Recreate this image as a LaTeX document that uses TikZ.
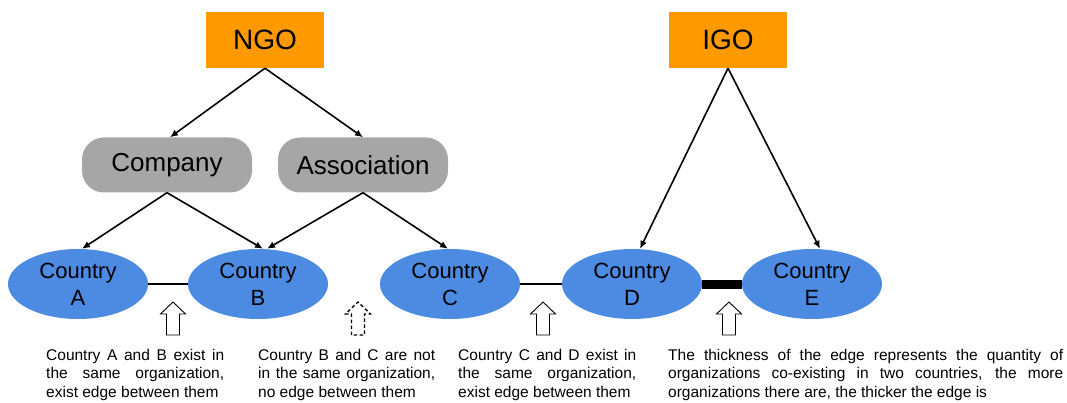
\documentclass[tikz,border=0pt]{standalone}
\usepackage{fontspec}
\setmainfont{Liberation Sans}
\usetikzlibrary{shapes.geometric,arrows.meta}
\definecolor{orgorange}{RGB}{255,153,0}
\definecolor{orggray}{RGB}{166,166,166}
\definecolor{ctryblue}{RGB}{77,138,226}
% hollow up arrow, centred on a named coordinate
\newcommand{\hollowup}[2][]{\draw[line width=0.9pt,fill=white,#1,shift={(#2)}] (-6.5,16.5) -- (-6.5,-4.5) -- (-12.5,-4.5) -- (0,-16.5) -- (12.5,-4.5) -- (6.5,-4.5) -- (6.5,16.5) -- cycle;}
\tikzset{
  orgbox/.style={fill=orgorange, minimum width=118pt, minimum height=56pt, inner sep=0pt, font=\fontsize{28}{32}\selectfont},
  typebox/.style={fill=orggray, rounded corners=22pt, minimum width=170pt, minimum height=55pt, inner sep=0pt, font=\fontsize{26}{30}\selectfont},
  country/.style={ellipse, fill=ctryblue, minimum width=140pt, minimum height=70pt, inner sep=0pt, align=center, font=\fontsize{22}{27}\selectfont},
  note/.style={anchor=north west, inner sep=0pt, align=justify, font=\fontsize{15.5}{18.5}\selectfont},
  link/.style={line width=1.6pt, -{Latex[length=8pt,width=7pt]}},
  noedge/.style={line width=1.3pt, dash pattern=on 3.5pt off 2.5pt}
}
\begin{document}
\begin{tikzpicture}[x=1pt,y=-1pt]
  \useasboundingbox (0,0) rectangle (1067,403);
  \node (ngo) at (265,40) [orgbox] {NGO};
  \node (igo) at (728,40) [orgbox] {IGO};
  \node (comp) at (167,165) [typebox] {Company};
  \node (assoc) at (363,165) [typebox] {Association};
  \node (A) at (78,284) [country] {Country\\A};
  \node (B) at (258,284) [country] {Country\\B};
  \node (C) at (450,284) [country] {Country\\C};
  \node (D) at (632,284) [country] {Country\\D};
  \node (E) at (812,284) [country] {Country\\E};
  \draw[link] (ngo.south) to ([xshift=3pt]comp.north);
  \draw[link] (ngo.south) to (assoc.north);
  \draw[link] (comp.south) to ([xshift=4pt]A.north);
  \draw[link] (comp.south) to ([xshift=5pt]B.north);
  \draw[link] (assoc.south) to ([xshift=9pt]B.north);
  \draw[link] (assoc.south) to ([xshift=-2pt]C.north);
  \draw[link] (igo.south) to ([xshift=8pt]D.north);
  \draw[link] (igo.south) to ([xshift=8pt]E.north);
  \draw[line width=1.4pt] (A) -- (B) (C) -- (D);
  \draw[line width=9pt] (D) -- (E);
  \coordinate (ab) at (173,318.5);
  \coordinate (bc) at (358,318.5);
  \coordinate (cd) at (543,318.5);
  \coordinate (de) at (729,318.5);
  \hollowup{ab}
  \hollowup[noedge]{bc}
  \hollowup{cd}
  \hollowup{de}
  \node (abtext) at (46,349) [note, text width=178pt] {Country A and B exist in\linebreak the same organization,\linebreak exist edge between them};
  \node (bctext) at (258,349) [note, text width=177pt] {Country B and C are not\linebreak in the same organization,\linebreak no edge between them};
  \node (cdtext) at (458,349) [note, text width=178pt] {Country C and D exist in\linebreak the same organization,\linebreak exist edge between them};
  \node (detext) at (668,349) [note, text width=395pt] {The thickness of the edge represents the quantity of\linebreak organizations co-existing in two countries, the more\linebreak organizations there are, the thicker the edge is};
\end{tikzpicture}
\end{document}
